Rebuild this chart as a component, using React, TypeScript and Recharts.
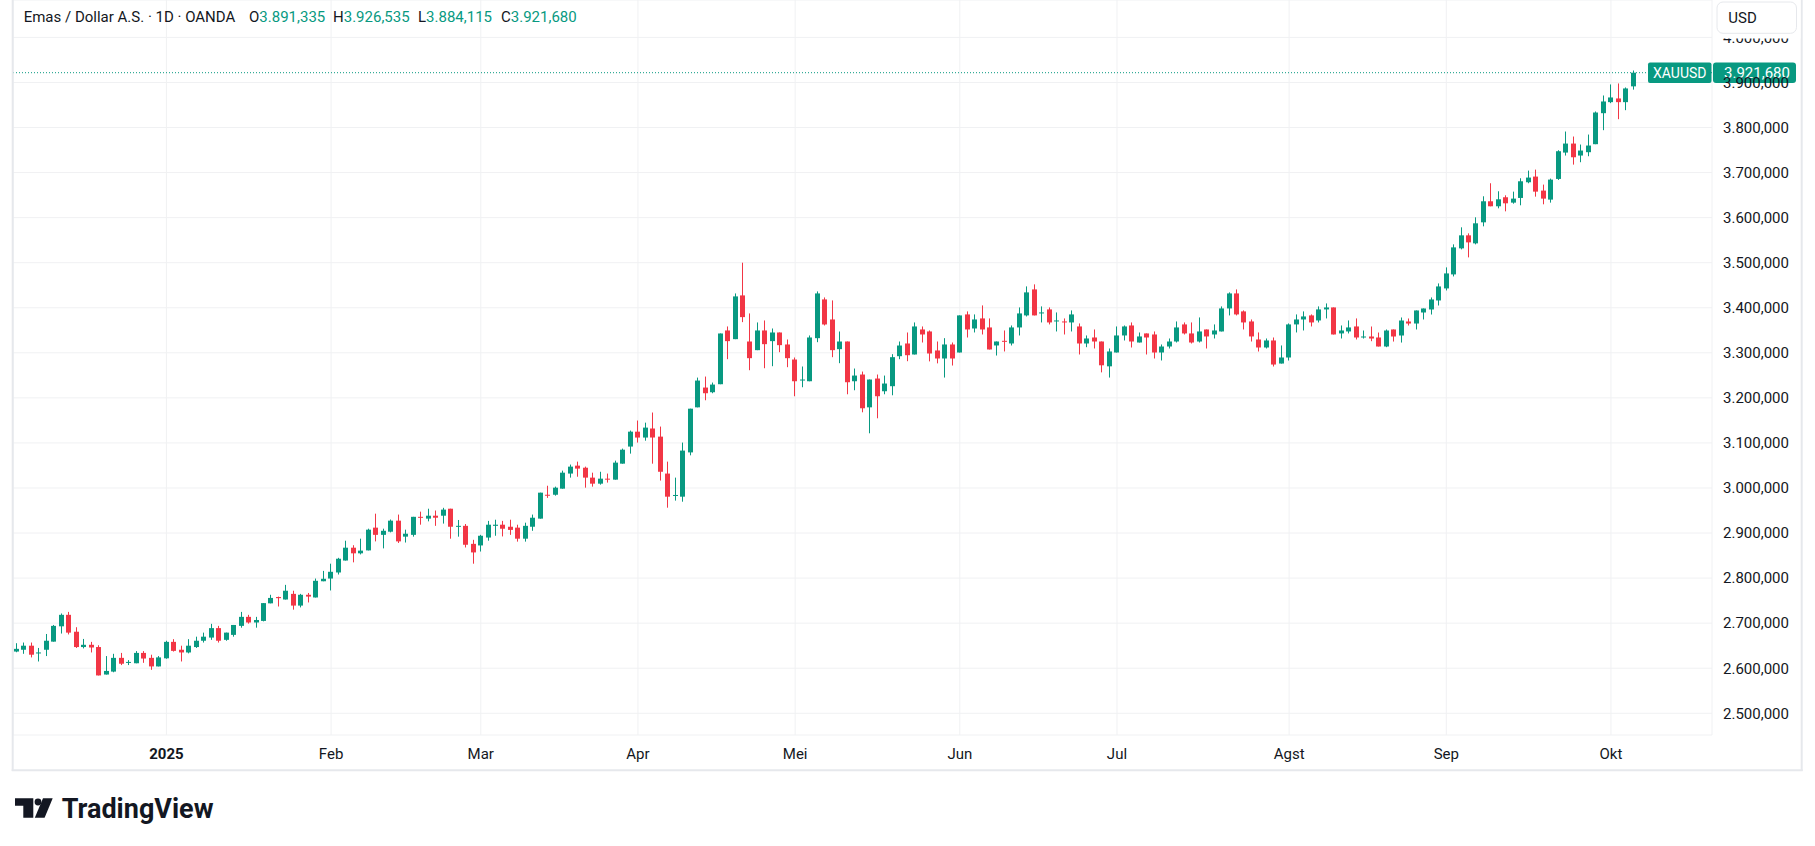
import React from "react";
import { ComposedChart, Bar, XAxis, YAxis, CartesianGrid, ReferenceLine } from "recharts";

// ---- categories (trading days) ----
const dates: string[] = [
  "2024-12-03","2024-12-04","2024-12-05","2024-12-06","2024-12-09","2024-12-10","2024-12-11","2024-12-12","2024-12-13","2024-12-16",
  "2024-12-17","2024-12-18","2024-12-19","2024-12-20","2024-12-23","2024-12-24","2024-12-26","2024-12-27","2024-12-30","2024-12-31",
  "2025-01-02","2025-01-03","2025-01-06","2025-01-07","2025-01-08","2025-01-09","2025-01-10","2025-01-13","2025-01-14","2025-01-15",
  "2025-01-16","2025-01-17","2025-01-20","2025-01-21","2025-01-22","2025-01-23","2025-01-24","2025-01-27","2025-01-28","2025-01-29",
  "2025-01-30","2025-01-31","2025-02-03","2025-02-04","2025-02-05","2025-02-06","2025-02-07","2025-02-10","2025-02-11","2025-02-12",
  "2025-02-13","2025-02-14","2025-02-17","2025-02-18","2025-02-19","2025-02-20","2025-02-21","2025-02-24","2025-02-25","2025-02-26",
  "2025-02-27","2025-02-28","2025-03-03","2025-03-04","2025-03-05","2025-03-06","2025-03-07","2025-03-10","2025-03-11","2025-03-12",
  "2025-03-13","2025-03-14","2025-03-17","2025-03-18","2025-03-19","2025-03-20","2025-03-21","2025-03-24","2025-03-25","2025-03-26",
  "2025-03-27","2025-03-28","2025-03-31","2025-04-01","2025-04-02","2025-04-03","2025-04-04","2025-04-07","2025-04-08","2025-04-09",
  "2025-04-10","2025-04-11","2025-04-14","2025-04-15","2025-04-16","2025-04-17","2025-04-21","2025-04-22","2025-04-23","2025-04-24",
  "2025-04-25","2025-04-28","2025-04-29","2025-04-30","2025-05-01","2025-05-02","2025-05-05","2025-05-06","2025-05-07","2025-05-08",
  "2025-05-09","2025-05-12","2025-05-13","2025-05-14","2025-05-15","2025-05-16","2025-05-19","2025-05-20","2025-05-21","2025-05-22",
  "2025-05-23","2025-05-26","2025-05-27","2025-05-28","2025-05-29","2025-05-30","2025-06-02","2025-06-03","2025-06-04","2025-06-05",
  "2025-06-06","2025-06-09","2025-06-10","2025-06-11","2025-06-12","2025-06-13","2025-06-16","2025-06-17","2025-06-18","2025-06-19",
  "2025-06-20","2025-06-23","2025-06-24","2025-06-25","2025-06-26","2025-06-27","2025-06-30","2025-07-01","2025-07-02","2025-07-03",
  "2025-07-04","2025-07-07","2025-07-08","2025-07-09","2025-07-10","2025-07-11","2025-07-14","2025-07-15","2025-07-16","2025-07-17",
  "2025-07-18","2025-07-21","2025-07-22","2025-07-23","2025-07-24","2025-07-25","2025-07-28","2025-07-29","2025-07-30","2025-07-31",
  "2025-08-01","2025-08-04","2025-08-05","2025-08-06","2025-08-07","2025-08-08","2025-08-11","2025-08-12","2025-08-13","2025-08-14",
  "2025-08-15","2025-08-18","2025-08-19","2025-08-20","2025-08-21","2025-08-22","2025-08-25","2025-08-26","2025-08-27","2025-08-28",
  "2025-08-29","2025-09-01","2025-09-02","2025-09-03","2025-09-04","2025-09-05","2025-09-08","2025-09-09","2025-09-10","2025-09-11",
  "2025-09-12","2025-09-15","2025-09-16","2025-09-17","2025-09-18","2025-09-19","2025-09-22","2025-09-23","2025-09-24","2025-09-25",
  "2025-09-26","2025-09-29","2025-09-30","2025-10-01","2025-10-02","2025-10-03","2025-10-06",
  // empty future slots (right margin of the time scale)
  "2025-10-07","2025-10-08","2025-10-09","2025-10-10","2025-10-13","2025-10-14","2025-10-15","2025-10-16","2025-10-17","2025-10-20",
];

// ---- OHLC series ----
const opens: number[] = [
  2637, 2641, 2650, 2633, 2641, 2659, 2693, 2718.5, 2681, 2647,
  2652, 2647, 2586, 2592.5, 2623, 2612, 2611, 2634, 2623, 2604,
  2622, 2658.5, 2641, 2635, 2647, 2661, 2668, 2689, 2663, 2674,
  2694, 2714, 2701.5, 2705, 2744, 2758, 2752.5, 2765, 2739, 2763,
  2757, 2793, 2799, 2812.5, 2839, 2867.5, 2855, 2861.5, 2912, 2896,
  2903, 2927.5, 2892, 2896, 2936, 2932, 2938.5, 2938.5, 2954, 2914,
  2916, 2876, 2872.5, 2890, 2916, 2918.5, 2914, 2912, 2887.5, 2914,
  2932, 2985, 2985, 2998.5, 3032, 3049.6, 3045, 3023, 3009.6, 3020.7,
  3018.5, 3054, 3091.9, 3125, 3111.9, 3132, 3114, 3032, 2983, 2980.7,
  3079, 3179, 3222.9, 3212.5, 3230.3, 3349.6, 3330.3, 3427.4, 3325.1, 3305.9,
  3349.6, 3325.9, 3345.1, 3318.5, 3285.1, 3239.2, 3236.9, 3332.5, 3418.5, 3374,
  3308.1, 3325.1, 3236.9, 3251.8, 3179, 3242.9, 3214.7, 3225.9, 3292.5, 3320.7,
  3296.3, 3351.8, 3347.4, 3305.2, 3287.4, 3318.5, 3300.7, 3385.2, 3354, 3376.3,
  3356.3, 3316.3, 3326.6, 3320.7, 3356.3, 3383, 3440.7, 3388.1, 3396.3, 3370.4,
  3369.6, 3367.4, 3358.5, 3320.7, 3334, 3325.1, 3270, 3300.7, 3338.5, 3360.7,
  3322.9, 3343, 3340.7, 3300.7, 3314, 3325.1, 3363, 3343, 3325.1, 3351.8,
  3340.7, 3347.4, 3398.5, 3431.8, 3391.9, 3369.6, 3329.6, 3311.8, 3327.4, 3276.2,
  3289.6, 3363, 3374, 3383, 3371.8, 3396.3, 3400.7, 3343, 3347.4, 3358.5,
  3334.7, 3336.2, 3334, 3314, 3351.8, 3338.4, 3369.5, 3365, 3389.5, 3396.2,
  3416.2, 3442.9, 3474, 3531.8, 3560.7, 3542.9, 3589.6, 3636.3, 3625.2, 3645.2,
  3633.3, 3643.7, 3678.5, 3691.1, 3660, 3640, 3685.9, 3744.4, 3764.4, 3737.8,
  3745.2, 3763, 3831.8, 3856.3, 3864.5, 3856.3, 3891.335,
];
const highs: number[] = [
  2655.5, 2657, 2657, 2645, 2676, 2696, 2721.5, 2725, 2691, 2665,
  2658.5, 2651, 2627, 2632, 2634, 2618, 2638, 2638, 2630, 2627,
  2661, 2664.5, 2650, 2664.5, 2670, 2679, 2698.5, 2694, 2679, 2696,
  2725, 2718.5, 2714, 2744.5, 2763, 2759, 2785, 2772, 2765, 2767,
  2799, 2816, 2832, 2845, 2883, 2873, 2887.5, 2909.7, 2943, 2909.7,
  2930, 2941, 2907.5, 2936, 2947.5, 2954, 2950, 2956, 2954, 2929,
  2920, 2885, 2896, 2927, 2929.6, 2927, 2929.6, 2918.5, 2923, 2941,
  2989.6, 3005, 3003, 3038.5, 3052, 3058.5, 3047.4, 3034, 3036, 3032,
  3060.7, 3087.4, 3127.4, 3149.7, 3145, 3167.5, 3136.3, 3058.5, 3023, 3100.8,
  3176, 3245, 3247.3, 3234, 3342.9, 3358.5, 3431.8, 3500, 3387.4, 3367.4,
  3371.8, 3354, 3345.1, 3329.6, 3289.6, 3269.6, 3338.5, 3436.3, 3422.9, 3416.3,
  3347.3, 3325.1, 3265.1, 3258.4, 3240.7, 3251.8, 3249.5, 3297, 3325.1, 3345.1,
  3367.4, 3358.5, 3349.6, 3325.1, 3332.5, 3322.9, 3383, 3391.9, 3385.2, 3405.2,
  3376.3, 3325.1, 3349.6, 3360.7, 3400.7, 3447.4, 3451.9, 3403, 3400.7, 3389.6,
  3376.3, 3394.1, 3365.2, 3338.5, 3351.8, 3325.1, 3309.6, 3358.5, 3360.7, 3367.4,
  3345.1, 3343, 3347.4, 3318.5, 3331.8, 3369.6, 3367.4, 3367.4, 3378.5, 3351.8,
  3363, 3403, 3434.1, 3440.7, 3394.1, 3374, 3345.2, 3331.8, 3334, 3316.3,
  3365.2, 3385.2, 3391.9, 3385.2, 3403, 3409.6, 3400.7, 3360.7, 3371.8, 3376.3,
  3349.5, 3358.4, 3345, 3351.8, 3351.8, 3378.4, 3376.2, 3394, 3398.4, 3422.9,
  3454, 3489.6, 3540.7, 3578.5, 3565.1, 3600.7, 3647.4, 3676.3, 3658.5, 3649.6,
  3657.7, 3687.4, 3704.4, 3706.6, 3673.3, 3686.6, 3749.6, 3791.1, 3780, 3762.2,
  3784.4, 3835.6, 3871.1, 3895.6, 3897.8, 3888.9, 3926.535,
];
const lows: number[] = [
  2635.5, 2632, 2624, 2615, 2627, 2659, 2677, 2675, 2645, 2644,
  2635, 2584, 2586, 2591, 2607, 2607, 2611, 2612, 2596.5, 2604,
  2621, 2637, 2615, 2633, 2645, 2657, 2663, 2657, 2661, 2670,
  2690, 2699, 2690, 2704, 2744, 2737, 2752.5, 2730, 2735, 2746,
  2757, 2793, 2772.6, 2808, 2839, 2835, 2852.6, 2861.5, 2881.5, 2866,
  2901.5, 2878, 2879, 2892, 2918.6, 2926, 2916, 2921, 2887.5, 2892,
  2868, 2832, 2859, 2883, 2894, 2892.5, 2896, 2881, 2881, 2905,
  2932, 2978, 2983, 2998.5, 3023, 3025, 3000.7, 3003, 3007.4, 3012,
  3018.5, 3054, 3076.3, 3100.8, 3105, 3054, 3016.5, 2956.3, 2972, 2969.6,
  3072.5, 3179, 3194.7, 3210.3, 3230.3, 3285.9, 3330.3, 3368.1, 3261.4, 3305.9,
  3265.8, 3270.3, 3301.4, 3268.1, 3203.6, 3223.6, 3236.9, 3323.6, 3360.7, 3290.3,
  3277, 3208, 3216.9, 3168, 3121.4, 3154.7, 3208, 3205.8, 3285.9, 3281.4,
  3296.3, 3322.9, 3281, 3276.6, 3245.1, 3271.8, 3300.7, 3334, 3345.2, 3340.7,
  3307.4, 3294, 3303, 3316.3, 3338.5, 3380.7, 3383, 3367.4, 3363, 3347.4,
  3340.7, 3347.4, 3296.3, 3312.5, 3309.6, 3256.6, 3245.1, 3300.7, 3327.4, 3311.8,
  3322.9, 3296.3, 3287.4, 3283, 3309.6, 3322.9, 3340.7, 3320.7, 3322.9, 3309.6,
  3331.8, 3347.4, 3383, 3383, 3351.8, 3325.1, 3302.9, 3309.6, 3269.6, 3276.2,
  3282.9, 3345.2, 3349.6, 3358.5, 3367.4, 3376.3, 3340.7, 3331.8, 3343, 3329.6,
  3331.7, 3325.8, 3314, 3312.5, 3325, 3322.8, 3360.6, 3351.8, 3374, 3385,
  3405, 3438.4, 3469.5, 3529.6, 3511.8, 3540.7, 3580.7, 3625.2, 3620.7, 3614,
  3631, 3627.4, 3676.3, 3646.6, 3629.6, 3633.3, 3683.7, 3737.8, 3717.7, 3723,
  3736.3, 3763, 3794.1, 3854.1, 3818.5, 3838.5, 3884.115,
];
const closes: number[] = [
  2643, 2650, 2630, 2635, 2661, 2694, 2718.5, 2679, 2647, 2652,
  2646, 2584, 2594, 2623, 2610, 2614, 2634, 2621.5, 2604, 2624,
  2658.5, 2638.5, 2635, 2650, 2661, 2670, 2689, 2661, 2679, 2696,
  2714, 2701.5, 2707, 2744.5, 2756, 2755.5, 2772, 2739, 2763, 2759,
  2794, 2798.5, 2814, 2843, 2867.5, 2855, 2861, 2907.5, 2896, 2905,
  2927.5, 2881.5, 2898.5, 2936, 2935, 2938.5, 2934, 2952, 2914, 2916,
  2874, 2857, 2894, 2918.5, 2918.5, 2909.6, 2907, 2887.5, 2916, 2934,
  2989.6, 2983, 3000.7, 3034, 3047.4, 3043, 3023, 3009.6, 3020.7, 3018.5,
  3056.3, 3085, 3125, 3111.9, 3134, 3112, 3036, 2980.7, 2984.5, 3083,
  3176, 3238.4, 3210.3, 3229.5, 3342.9, 3325.9, 3425.2, 3379.2, 3288.1, 3349.6,
  3319.2, 3345.1, 3317, 3288.1, 3236.9, 3240.7, 3334, 3431.8, 3362.9, 3305.9,
  3325.1, 3234.7, 3249.5, 3176.9, 3240.7, 3203.6, 3231.8, 3290.3, 3316.2, 3294.7,
  3358.5, 3340.7, 3298.5, 3287.4, 3318.5, 3287.4, 3383, 3351.8, 3374, 3351.8,
  3307.4, 3325.1, 3325.1, 3356.3, 3387.4, 3434.1, 3383, 3389.6, 3367.4, 3371.8,
  3368.1, 3385.2, 3320.7, 3331.8, 3325.1, 3272.3, 3303, 3338.5, 3358.5, 3325.1,
  3336.3, 3334, 3300.7, 3314, 3325.1, 3356.3, 3343, 3322.9, 3347.4, 3336.3,
  3349.6, 3398.5, 3431.8, 3385.2, 3367.4, 3336.3, 3311.8, 3327.4, 3274, 3289.6,
  3363, 3374, 3380.7, 3367.4, 3396.3, 3400.7, 3340.7, 3349.6, 3356.3, 3334,
  3336.2, 3331.7, 3314, 3349.5, 3336.2, 3371.7, 3365, 3394, 3398.4, 3418.4,
  3447.3, 3476.2, 3534, 3560.7, 3545.1, 3587.4, 3636.3, 3625.2, 3640.7, 3631.8,
  3642.2, 3680.7, 3688.9, 3657.7, 3642.2, 3684.4, 3747.4, 3764.4, 3734, 3748.9,
  3760, 3833.3, 3857.8, 3866.7, 3856.3, 3886.7, 3921.68,
];

// ---- axis ticks ----
const monthTicks: string[] = ["2025-01-02", "2025-02-03", "2025-03-03", "2025-04-01", "2025-05-01", "2025-06-02", "2025-07-01", "2025-08-01", "2025-09-01", "2025-10-01"];
const monthLabels: string[] = ["2025", "Feb", "Mar", "Apr", "Mei", "Jun", "Jul", "Agst", "Sep", "Okt"];
const priceTicks: number[] = [2500, 2600, 2700, 2800, 2900, 3000, 3100, 3200, 3300, 3400, 3500, 3600, 3700, 3800, 3900, 4000];
const priceDomain: number[] = [2451.8, 4083];

const symbolName = "XAUUSD";
const legendTitle = "Emas / Dollar A.S. · 1D · OANDA";

const UP = "#089981";
const DOWN = "#F23645";
const TEXT = "#131722";
const GRID = "#f0f1f3";
const BORDER = "#e6e8ec";
const FONT = "Roboto, 'Noto Sans', sans-serif";

const fmtPrice = (v: number): string => {
  const [i, d] = v.toFixed(3).split(".");
  return i.replace(/\B(?=(\d{3})+(?!\d))/g, ".") + "," + d;
};

const data = dates.map((date, i) =>
  i < opens.length
    ? { date, open: opens[i], high: highs[i], low: lows[i], close: closes[i], range: [lows[i], highs[i]] }
    : { date, open: null, high: null, low: null, close: null, range: null }
);

const last = opens.length - 1;

function Candle(props: any) {
  const { x, y, width, height, payload } = props;
  if (!payload || payload.open == null || x == null) return null;
  const { open, high, low, close } = payload;
  const top = Math.min(y, y + height);
  const bottom = Math.max(y, y + height);
  const span = high - low;
  const k = span > 0 ? (bottom - top) / span : 0;
  const yOf = (v: number) => top + (high - v) * k;
  const color = close >= open ? UP : DOWN;
  const center = x + width / 2;
  const bx = Math.round(center - 2.5);
  const bTop = yOf(Math.max(open, close));
  const bBot = yOf(Math.min(open, close));
  return (
    <g>
      <rect x={bx + 2} y={top} width={1} height={Math.max(1, bottom - top)} fill={color} />
      <rect x={bx} y={bTop} width={5} height={Math.max(1, bBot - bTop)} fill={color} />
    </g>
  );
}

function TimeTick(props: any) {
  const { x, y, payload } = props;
  const idx = monthTicks.indexOf(payload.value);
  const label = idx >= 0 ? monthLabels[idx] : "";
  const bold = idx === 0;
  return (
    <text x={x} y={y + 24} textAnchor="middle" fill={TEXT} fontSize={15} fontFamily={FONT} fontWeight={bold ? 700 : 400}>
      {label}
    </text>
  );
}

function PriceTick(props: any) {
  const { x, y, payload } = props;
  return (
    <text x={x + 11} y={y + 5.3} textAnchor="start" fill={TEXT} fontSize={15} fontFamily={FONT}>
      {fmtPrice(payload.value)}
    </text>
  );
}

function PriceTag(props: any) {
  const vb = props.viewBox || {};
  const right = (vb.x || 0) + (vb.width || 0);
  const cy = vb.y || 0;
  return (
    <g>
      <rect x={right - 64} y={cy - 10.3} width={63.5} height={20.6} rx={2} fill={UP} />
      <text x={right - 32.2} y={cy + 5} textAnchor="middle" fill="#fff" fontSize={14} fontFamily={FONT}>
        {symbolName}
      </text>
      <rect x={right + 1} y={cy - 10.3} width={83} height={20.6} rx={3} fill={UP} />
      <text x={right + 12} y={cy + 5.3} textAnchor="start" fill="#fff" fontSize={15} fontFamily={FONT}>
        {fmtPrice(closes[last])}
      </text>
    </g>
  );
}

export default function App() {
  const valueStyle = { fill: UP };
  return (
    <div style={{ position: "absolute", left: 0, top: 0, width: 1815, height: 846, background: "#ffffff", overflow: "hidden", fontFamily: FONT }}>
      <div style={{ position: "absolute", left: 0, top: 0 }}>
        <ComposedChart width={1815} height={846} data={data} margin={{ top: 0, right: 13, bottom: 76, left: 13 }} barCategoryGap={0}>
          <CartesianGrid stroke={GRID} strokeWidth={1} />
          <XAxis
            dataKey="date"
            type="category"
            ticks={monthTicks}
            interval={0}
            tickLine={false}
            axisLine={false}
            tickSize={0}
            tickMargin={0}
            height={35}
            tick={<TimeTick />}
          />
          <YAxis
            orientation="right"
            width={90}
            domain={priceDomain}
            ticks={priceTicks}
            allowDataOverflow
            tickLine={false}
            axisLine={false}
            tickSize={0}
            tickMargin={0}
            tick={<PriceTick />}
          />
          <ReferenceLine y={closes[last]} stroke={UP} strokeWidth={1} strokeDasharray="1 2" label={<PriceTag />} />
          <Bar dataKey="range" shape={<Candle />} isAnimationActive={false} />
        </ComposedChart>
      </div>
      <svg width={1815} height={846} style={{ position: "absolute", left: 0, top: 0, pointerEvents: "none" }}>
        {/* pane border */}
        <line x1={12.7} y1={0} x2={12.7} y2={771} stroke={BORDER} strokeWidth={2} />
        <line x1={1801.7} y1={0} x2={1801.7} y2={771} stroke={BORDER} strokeWidth={2} />
        <line x1={11.7} y1={770.3} x2={1802.7} y2={770.3} stroke={BORDER} strokeWidth={2} />
        {/* legend */}
        <text y={21.7} fontSize={15} fontFamily={FONT} fill={TEXT}>
          <tspan x={23.7}>{legendTitle}</tspan>
          <tspan x={249}>O</tspan>
          <tspan style={valueStyle}>{fmtPrice(opens[last])}</tspan>
          <tspan x={333}>H</tspan>
          <tspan style={valueStyle}>{fmtPrice(highs[last])}</tspan>
          <tspan x={418}>L</tspan>
          <tspan style={valueStyle}>{fmtPrice(lows[last])}</tspan>
          <tspan x={501}>C</tspan>
          <tspan style={valueStyle}>{fmtPrice(closes[last])}</tspan>
        </text>
        {/* currency button (its white backing hides the top of the highest price label) */}
        <rect x={1713.5} y={0} width={87} height={38.5} fill="#ffffff" />
        <rect x={1717} y={2} width={79.5} height={31.3} rx={6} fill="#ffffff" stroke={BORDER} strokeWidth={1} />
        <text x={1728.3} y={22.7} fontSize={15} fontFamily={FONT} fill={TEXT}>USD</text>
        {/* TradingView logo */}
        <path d="M15 798.3 H33.3 V817.7 H23.3 V805.7 H15 Z" fill={TEXT} />
        <circle cx={38} cy={802} r={3.4} fill={TEXT} />
        <path d="M43 798.3 H52.7 L44.6 817.7 H34.8 Z" fill={TEXT} />
        <text x={61.7} y={817.7} fontSize={27} fontWeight={700} fontFamily={FONT} fill={TEXT}>
          TradingView
        </text>
      </svg>
    </div>
  );
}
